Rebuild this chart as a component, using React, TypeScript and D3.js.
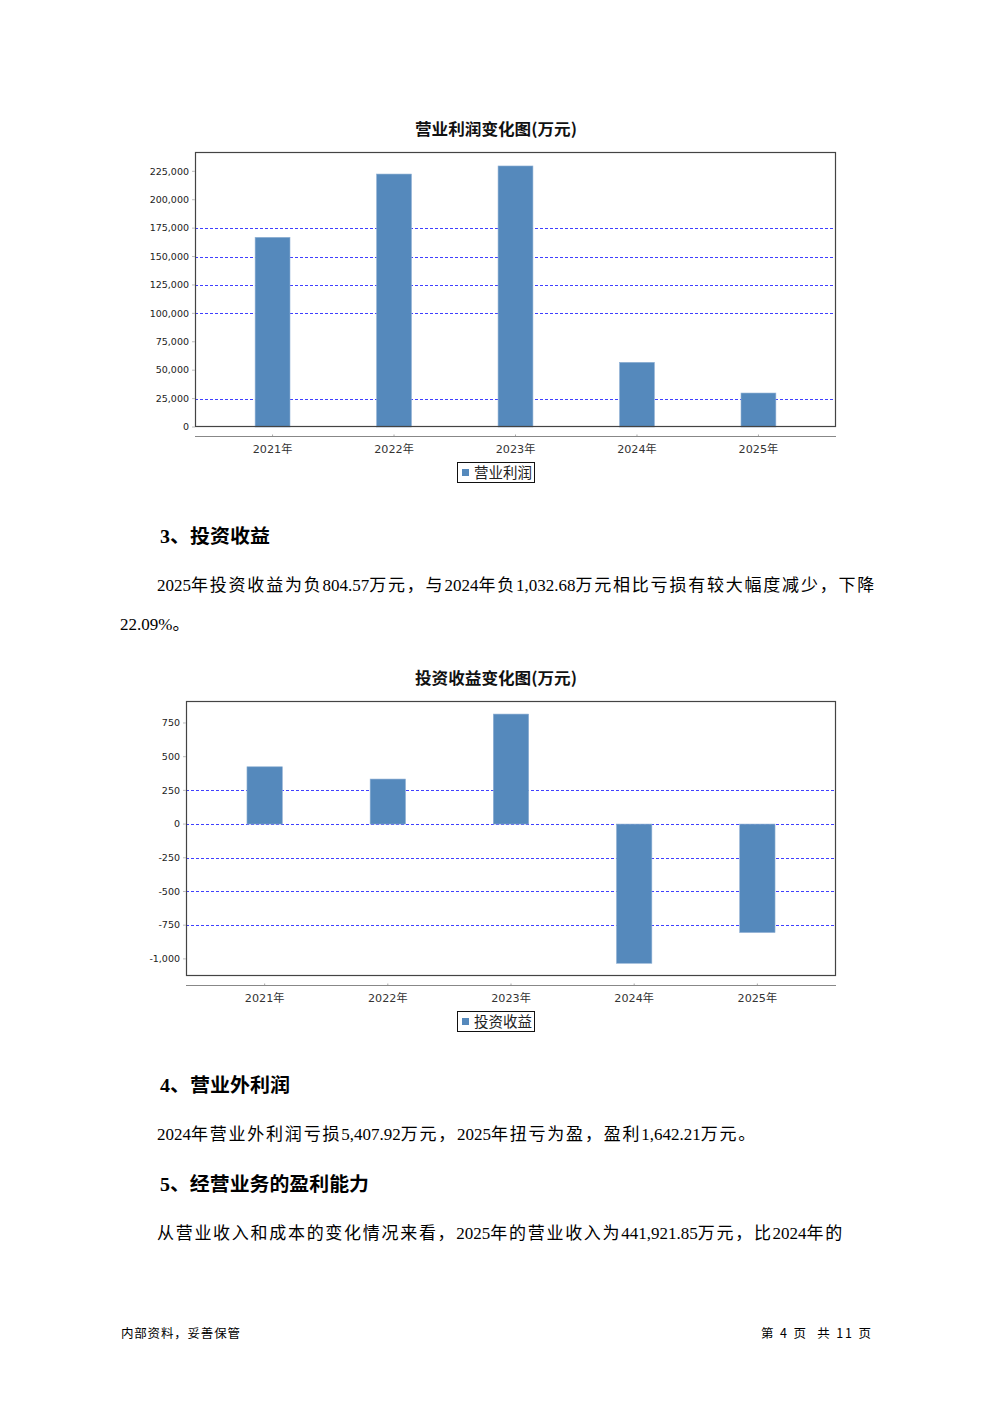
import React, { useLayoutEffect, useRef, useState } from "react";
import * as d3 from "d3";

// ---------- data ----------
const years = ["2021年", "2022年", "2023年", "2024年", "2025年"];

const opProfitValues = [166900, 222600, 229700, 56900, 29900];
const opProfitTicks = [0, 25000, 50000, 75000, 100000, 125000, 150000, 175000, 200000, 225000];
const opProfitGrid = [25000, 100000, 125000, 150000, 175000];

const invIncomeValues = [425, 334, 816, -1032.68, -804.57];
const invIncomeTicks = [-1000, -750, -500, -250, 0, 250, 500, 750];
const invIncomeGrid = [-750, -500, -250, 0, 250];

const chart1Title = "营业利润变化图(万元)";
const chart1Legend = "营业利润";
const chart2Title = "投资收益变化图(万元)";
const chart2Legend = "投资收益";

const para1a = "2025年投资收益为负804.57万元，与2024年负1,032.68万元相比亏损有较大幅度减少，下降";
const para1b = "22.09%。";
const para2 = "2024年营业外利润亏损5,407.92万元，2025年扭亏为盈，盈利1,642.21万元。";
const para3 = "从营业收入和成本的变化情况来看，2025年的营业收入为441,921.85万元，比2024年的";

const BAR = "#5589bc";
const GRID = "#4040ff";
const CJK = "'Noto Sans CJK SC', 'DejaVu Sans', sans-serif";
const BODY = "'Liberation Serif', 'Noto Sans CJK SC', serif";
const AXISF = "'DejaVu Sans', 'Noto Sans CJK SC', sans-serif";

const fmt = d3.formatLocale({ decimal: ".", thousands: ",", grouping: [3], currency: ["", ""], minus: "-" }).format(",");

function JustLine({ x, y, text, width }: { x: number; y: number; text: string; width: number }) {
  const ref = useRef<SVGTextElement>(null);
  const [ls, setLs] = useState(0);
  const runs = text.split(/([0-9.,%]+)/).filter((s) => s.length > 0);
  useLayoutEffect(() => {
    const el = ref.current;
    if (!el) return;
    const tspans = Array.from(el.querySelectorAll("tspan.cjk")) as SVGTSpanElement[];
    tspans.forEach((t) => t.setAttribute("letter-spacing", "0"));
    const natural = el.getComputedTextLength();
    const n = runs.filter((r) => !/^[0-9.,%]+$/.test(r)).join("").length;
    const s = n > 0 ? (width - natural) / n : 0;
    setLs(Math.max(0, s));
  }, [text, width]);
  return (
    <text ref={ref} x={x} y={y} fontFamily={BODY} fontSize={17} fill="#000">
      {runs.map((r, i) =>
        /^[0-9.,%]+$/.test(r) ? (
          <tspan key={i}>{r}</tspan>
        ) : (
          <tspan key={i} className="cjk" letterSpacing={ls}>
            {r}
          </tspan>
        )
      )}
    </text>
  );
}

type ChartProps = {
  offsetY: number;
  left: number;
  values: number[];
  domain: [number, number];
  ticks: number[];
  grid: number[];
  title: string;
  legend: string;
};

function BarChart({ offsetY, left, values, domain, ticks, grid, title, legend }: ChartProps) {
  const right = 836;
  const top = 152 + offsetY;
  const bottom = 427 + offsetY;
  const x = d3
    .scaleBand<string>()
    .domain(years)
    .range([left, right])
    .paddingInner(0.713)
    .paddingOuter(0.495);
  const y = d3.scaleLinear().domain(domain).range([bottom, top]);
  const axisY = bottom + 9;
  const cx = 496;
  return (
    <g>
      <text
        x={cx}
        y={135 + offsetY}
        textAnchor="middle"
        fontFamily={CJK}
        fontWeight="bold"
        fontSize={16}
        fill="#111"
        textLength={162}
        lengthAdjust="spacingAndGlyphs"
      >
        {title}
      </text>
      <rect x={left} y={top} width={right - left} height={bottom - top} fill="#fff" />
      {grid.map((g) => (
        <line
          key={"g" + g}
          x1={left}
          x2={right}
          y1={Math.round(y(g)) + 0.5}
          y2={Math.round(y(g)) + 0.5}
          stroke={GRID}
          strokeWidth={1}
          strokeDasharray="3,2"
        />
      ))}
      {years.map((yr, i) => {
        const v = values[i];
        const y0 = y(0);
        const y1 = y(v);
        return (
          <rect
            key={yr}
            x={x(yr)}
            y={Math.min(y0, y1)}
            width={x.bandwidth()}
            height={Math.abs(y1 - y0)}
            fill={BAR}
            stroke="#8fb0d4"
            strokeWidth={0.6}
          />
        );
      })}
      <rect
        x={left + 0.5}
        y={top + 0.5}
        width={right - left - 1}
        height={bottom - top - 1}
        fill="none"
        stroke="#444"
        strokeWidth={1.2}
      />
      {ticks.map((t) => (
        <g key={"t" + t}>
          <line x1={left - 3} x2={left} y1={y(t)} y2={y(t)} stroke="#bbb" strokeWidth={1} />
          <text
            x={left - 6}
            y={y(t) + 3.3}
            textAnchor="end"
            fontFamily={AXISF}
            fontSize={9.5}
            fill="#222"
          >
            {fmt(t)}
          </text>
        </g>
      ))}
      <line x1={left} x2={right} y1={axisY + 0.5} y2={axisY + 0.5} stroke="#888" strokeWidth={1} />
      {years.map((yr) => {
        const c = (x(yr) as number) + x.bandwidth() / 2;
        return (
          <g key={"c" + yr}>
            <line x1={c} x2={c} y1={axisY - 1.5} y2={axisY} stroke="#aaa" strokeWidth={1} />
            <text
              x={c}
              y={axisY + 16.5}
              textAnchor="middle"
              fontFamily={AXISF}
              fontSize={11.2}
              fill="#333"
            >
              {yr}
            </text>
          </g>
        );
      })}
      <rect x={457.5} y={462.5 + offsetY} width={77} height={20} fill="#fff" stroke="#111" strokeWidth={1} />
      <rect x={462} y={469 + offsetY} width={7} height={7} fill={BAR} />
      <text
        x={474}
        y={478 + offsetY}
        fontFamily={CJK}
        fontSize={14.5}
        fill="#222"
        textLength={58}
        lengthAdjust="spacingAndGlyphs"
      >
        {legend}
      </text>
    </g>
  );
}

export default function App() {
  return (
    <svg
      width={992}
      height={1403}
      viewBox="0 0 992 1403"
      style={{ position: "absolute", left: 0, top: 0, background: "#fff" }}
    >
      <rect x={0} y={0} width={992} height={1403} fill="#fff" />
      <BarChart
        offsetY={0}
        left={195}
        values={opProfitValues}
        domain={[0, 242000]}
        ticks={opProfitTicks}
        grid={opProfitGrid}
        title={chart1Title}
        legend={chart1Legend}
      />
      <text x={160} y={543} fontFamily={BODY} fontWeight="bold" fontSize={19} fill="#000" textLength={110} lengthAdjust="spacingAndGlyphs">
        3、投资收益
      </text>
      <JustLine x={157} y={591} text={para1a} width={719} />
      <text x={120} y={630} fontFamily={BODY} fontSize={17} fill="#000">
        {para1b}
      </text>
      <BarChart
        offsetY={549}
        left={186}
        values={invIncomeValues}
        domain={[-1127, 913]}
        ticks={invIncomeTicks}
        grid={invIncomeGrid}
        title={chart2Title}
        legend={chart2Legend}
      />
      <text x={160} y={1092} fontFamily={BODY} fontWeight="bold" fontSize={19} fill="#000" textLength={130} lengthAdjust="spacingAndGlyphs">
        4、营业外利润
      </text>
      <JustLine x={157} y={1140} text={para2} width={600} />
      <text x={160} y={1191} fontFamily={BODY} fontWeight="bold" fontSize={19} fill="#000" textLength={209} lengthAdjust="spacingAndGlyphs">
        5、经营业务的盈利能力
      </text>
      <JustLine x={157} y={1239} text={para3} width={687} />
      <text x={121} y={1338} fontFamily={CJK} fontSize={12.5} fill="#000" textLength={119} lengthAdjust="spacing">
        内部资料，妥善保管
      </text>
      <text
        x={761}
        y={1338}
        fontFamily={CJK}
        fontSize={12.5}
        fill="#000"
        textLength={110}
        lengthAdjust="spacing"
        style={{ whiteSpace: "pre" }}
      >
        {"第 4 页  共 11 页"}
      </text>
    </svg>
  );
}
